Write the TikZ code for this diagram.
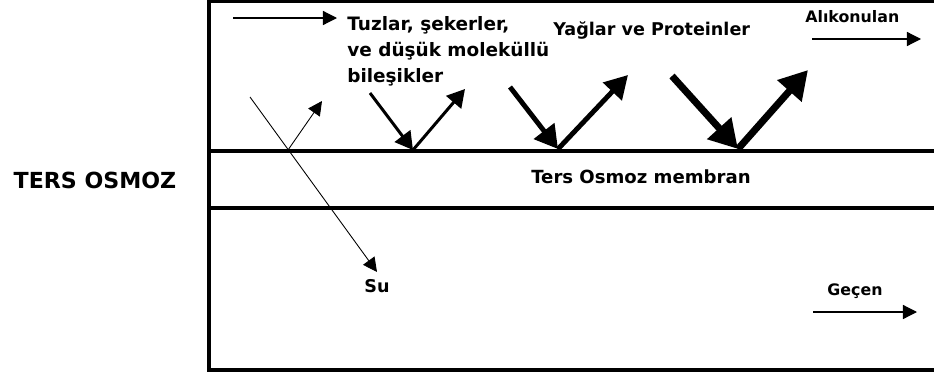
\documentclass[tikz,border=0pt]{standalone}
\usepackage{fontspec}
\setmainfont{DejaVu Sans}
\usetikzlibrary{arrows.meta}
\tikzset{
	lbl/.style={font=\bfseries\fontsize{10}{14}\selectfont, align=left, inner sep=0pt},
	wall/.style={line width=2.2pt},
	flow/.style={line width=0.7pt, -{Triangle[length=8pt, width=8pt]}},
	push/.style args={#1/#2}{line width=#1, -{Triangle[length=#2, width=1.1*#2]}},
}
\begin{document}
\begin{tikzpicture}[x=0.02cm, y=-0.02cm]
	\useasboundingbox (0,0) rectangle (934,379);
	\clip (0,0) rectangle (934,379);
	% tank and membrane
	\draw[wall] (960,1) -- (209,1) -- (209,370) -- (960,370);
	\draw[wall] (209,151) -- (960,151);
	\draw[wall] (209,208) -- (960,208);
	% labels
	\node[lbl, font=\bfseries\fontsize{12.6}{14}\selectfont, anchor=base] (ro) at (95,188) {TERS OSMOZ};
	\node[lbl, font=\bfseries\fontsize{10.5}{14.8}\selectfont, anchor=north west] (salt) at (347,16) {Tuzlar, şekerler,\\ve düşük moleküllü\\bileşikler};
	\node[lbl, anchor=base west] (fat) at (553,35) {Yağlar ve Proteinler};
	\node[lbl, font=\bfseries\fontsize{9}{14}\selectfont, anchor=base west] (kept) at (805,22) {Alıkonulan};
	\node[lbl, font=\bfseries\fontsize{10.3}{14}\selectfont, anchor=base] (mem) at (641,183) {Ters Osmoz membran};
	\node[lbl, anchor=base] (su) at (377,292) {Su};
	\node[lbl, font=\bfseries\fontsize{9}{14}\selectfont, anchor=base] (pass) at (855,295) {Geçen};
	% feed, reject, permeate
	\coordinate (feedA) at (233,18);
	\coordinate (feedB) at (337,18);
	\coordinate (keptA) at (812,39);
	\coordinate (keptB) at (921,39);
	\coordinate (passA) at (813,312);
	\coordinate (passB) at (917,312);
	\draw[flow] (feedA) -- (feedB);
	\draw[flow] (keptA) -- (keptB);
	\draw[flow] (passA) -- (passB);
	% water goes through
	\coordinate (waterA) at (250,97);
	\coordinate (waterB) at (377,272);
	\coordinate (hit0) at (288,150);
	\coordinate (out0) at (322,101);
	\draw[flow, line width=0.5pt] (waterA) -- (waterB);
	\draw[flow, line width=0.5pt] (hit0) -- (out0);
	% the rest bounces back
	\coordinate (in1) at (370,93);
	\coordinate (hit1) at (413,150);
	\coordinate (out1) at (465,89);
	\draw[push=1.7pt/10pt] (in1) -- (hit1);
	\draw[push=1.7pt/10pt] (hit1) -- (out1);
	\coordinate (in2) at (510,87);
	\coordinate (hit2) at (558,149);
	\coordinate (out2) at (628,75);
	\draw[push=2.8pt/13pt] (in2) -- (hit2);
	\draw[push=2.8pt/13pt] (hit2) -- (out2);
	\coordinate (in3) at (672,76);
	\coordinate (hit3) at (738,149);
	\coordinate (out3) at (808,70);
	\draw[push=4pt/16pt] (in3) -- (hit3);
	\draw[push=4pt/16pt] (hit3) -- (out3);
\end{tikzpicture}
\end{document}
